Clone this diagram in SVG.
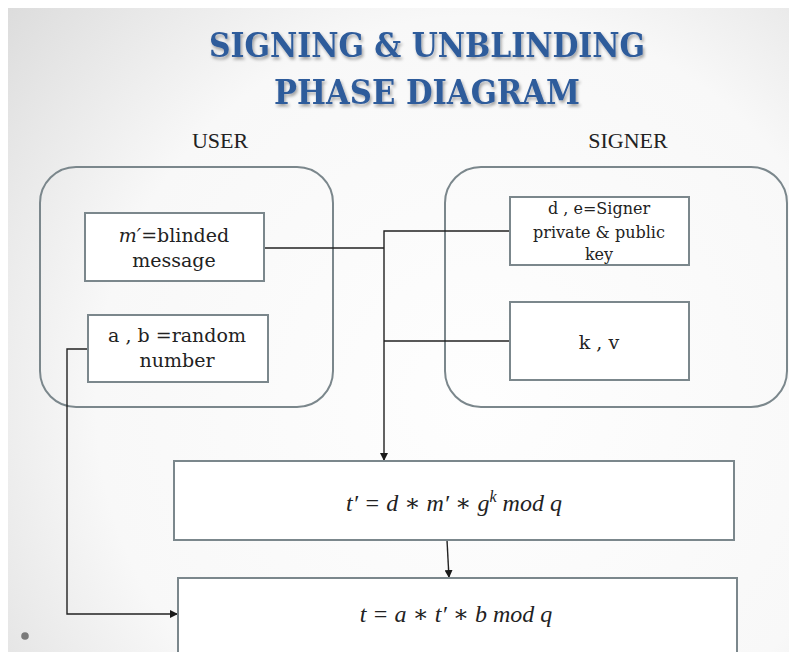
<svg xmlns="http://www.w3.org/2000/svg" width="791" height="652" viewBox="0 0 791 652">
  <defs>
    <radialGradient id="slideBg" cx="480" cy="400" r="640" gradientUnits="userSpaceOnUse">
      <stop offset="0" stop-color="#fefefe"/>
      <stop offset="0.6" stop-color="#f8f8f8"/>
      <stop offset="1" stop-color="#d9d9d9"/>
    </radialGradient>
    <filter id="titleShadow" x="-10%" y="-30%" width="120%" height="160%">
      <feDropShadow dx="1.5" dy="2.5" stdDeviation="1.6" flood-color="#000" flood-opacity="0.35"/>
    </filter>
    <marker id="arrow" viewBox="0 0 10 10" refX="10" refY="5" markerWidth="8" markerHeight="8" markerUnits="userSpaceOnUse" orient="auto">
      <path d="M0,0 L10,5 L0,10 z" fill="#1a1a1a"/>
    </marker>
    <style>
      .title { font-family: "DejaVu Serif", "Liberation Serif", serif; font-weight: bold; font-size: 33px; fill: #2f5b9b; text-anchor: middle; }
      .role { font-family: "Liberation Serif", "DejaVu Serif", serif; font-size: 22px; fill: #222; text-anchor: middle; }
      .group { fill: none; stroke: #7b878c; stroke-width: 2; }
      .box { fill: #ffffff; stroke: #7b878c; stroke-width: 2; }
      .label { font-family: "DejaVu Serif", "Liberation Serif", serif; font-size: 19px; fill: #222; text-anchor: middle; }
      .small { font-size: 16px; }
      .math { font-family: "Liberation Serif", "DejaVu Serif", serif; font-style: italic; font-size: 24px; fill: #222; text-anchor: middle; }
      .wire { fill: none; stroke: #222; stroke-width: 1.4; }
    </style>
  </defs>

  <!-- slide background -->
  <rect x="0" y="0" width="791" height="652" fill="#ffffff"/>
  <rect x="8" y="8" width="781" height="644" fill="url(#slideBg)"/>
  <circle cx="25" cy="636" r="3.8" fill="#7a7a7a"/>

  <!-- heading -->
  <g id="title" filter="url(#titleShadow)">
    <text class="title" x="427" y="57" textLength="436" lengthAdjust="spacingAndGlyphs">SIGNING &amp; UNBLINDING</text>
    <text class="title" x="427" y="104" textLength="306" lengthAdjust="spacingAndGlyphs">PHASE DIAGRAM</text>
  </g>

  <!-- participant captions -->
  <text class="role" x="220" y="148">USER</text>
  <text class="role" x="628" y="148">SIGNER</text>

  <!-- participant groups -->
  <g id="user">
    <rect class="group" x="40" y="167" width="293" height="240" rx="36"/>
  </g>
  <g id="signer">
    <rect class="group" x="445" y="167" width="342" height="240" rx="36"/>
  </g>

  <!-- connectors -->
  <g id="connectors">
    <path class="wire" d="M264,248 H384"/>
    <path class="wire" d="M510,231 H384 V461" marker-end="url(#arrow)"/>
    <path class="wire" d="M510,341 H384"/>
    <path class="wire" d="M88,349 H67 V614 H178" marker-end="url(#arrow)"/>
    <path class="wire" d="M447,540 L449,578" marker-end="url(#arrow)"/>
  </g>

  <g id="blinded-message">
    <rect class="box" x="85" y="213" width="179" height="68"/>
    <text class="label" x="174" y="242"><tspan font-style="italic">m′</tspan>=blinded</text>
    <text class="label" x="174" y="267">message</text>
  </g>

  <g id="random-numbers">
    <rect class="box" x="88" y="315" width="180" height="67"/>
    <text class="label" x="177" y="342">a , b =random</text>
    <text class="label" x="177" y="367">number</text>
  </g>

  <g id="signer-keys">
    <rect class="box" x="510" y="197" width="179" height="68"/>
    <text class="label small" x="599" y="214">d , e=Signer</text>
    <text class="label small" x="599" y="238">private &amp; public</text>
    <text class="label small" x="599" y="260">key</text>
  </g>

  <g id="k-v">
    <rect class="box" x="510" y="302" width="179" height="78"/>
    <text class="label" x="599" y="349" font-size="20">k , v</text>
  </g>

  <g id="blind-signature">
    <rect class="box" x="174" y="461" width="560" height="79"/>
    <text class="math" x="454" y="511">t′ = d ∗ m′ ∗ g<tspan font-size="16" dy="-9">k</tspan><tspan dy="9"> mod q</tspan></text>
  </g>

  <g id="unblinded-signature">
    <rect class="box" x="178" y="578" width="559" height="90"/>
    <text class="math" x="456" y="622">t = a ∗ t′ ∗ b mod q</text>
  </g>
</svg>
